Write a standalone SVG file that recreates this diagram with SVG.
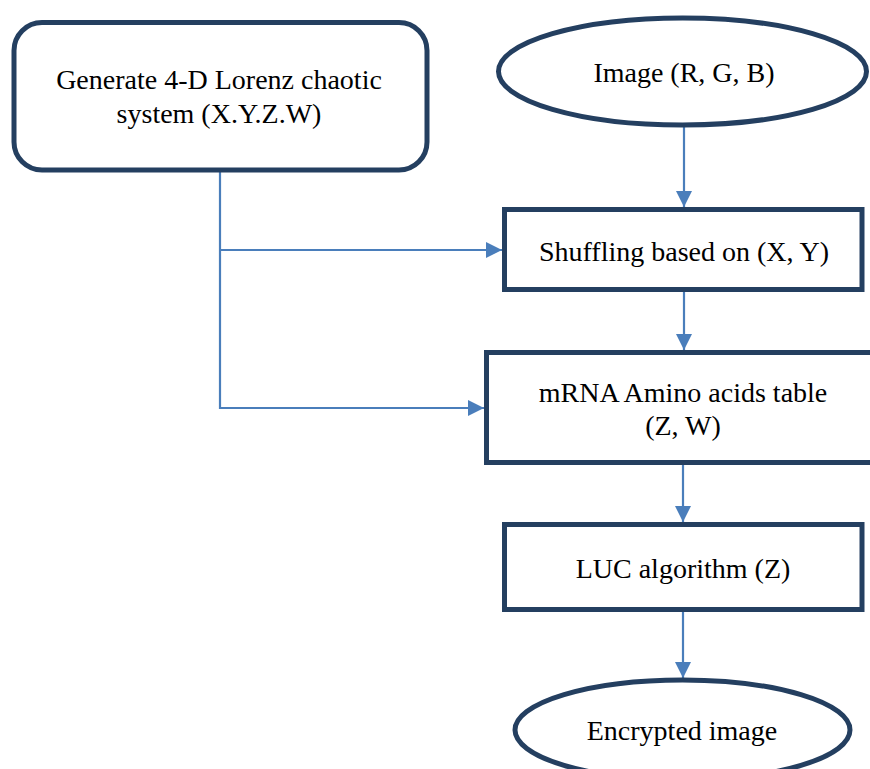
<svg xmlns="http://www.w3.org/2000/svg" width="870" height="769" viewBox="0 0 870 769">
<style>
.box{fill:#fff;stroke:#243f60;stroke-width:5}
.t{font-family:"Liberation Serif","Times New Roman",serif;font-size:28px;fill:#000;text-anchor:middle}
.c{fill:none;stroke:#4a7ebb;stroke-width:2.2}
</style>
<defs>
<marker id="ah" markerUnits="userSpaceOnUse" markerWidth="17" markerHeight="17" refX="16" refY="8" orient="auto">
<path d="M0,0 L16,8 L0,16 Z" fill="#4a7ebb"/>
</marker>
</defs>
<rect width="870" height="769" fill="#fff"/>
<g id="connectors">
<line class="c" x1="684" y1="127" x2="684" y2="207" marker-end="url(#ah)"/>
<line class="c" x1="684" y1="292" x2="684" y2="350" marker-end="url(#ah)"/>
<line class="c" x1="683" y1="465" x2="683" y2="522" marker-end="url(#ah)"/>
<line class="c" x1="683" y1="612" x2="683" y2="678" marker-end="url(#ah)"/>
<polyline class="c" points="220,172 220,408 484,408" marker-end="url(#ah)"/>
<line class="c" x1="220" y1="250" x2="502" y2="250" marker-end="url(#ah)"/>
</g>
<g id="lorenz">
<rect class="box" x="14" y="22.5" width="413" height="147.5" rx="28"/>
<text class="t" x="219" y="89">Generate 4-D Lorenz chaotic</text>
<text class="t" x="219" y="123">system (X.Y.Z.W)</text>
</g>
<g id="image">
<ellipse class="box" cx="682.5" cy="71.5" rx="184" ry="53.5"/>
<text class="t" x="684" y="82">Image (R, G, B)</text>
</g>
<g id="shuffling">
<rect class="box" x="504.5" y="209.5" width="357.5" height="80"/>
<text class="t" x="684" y="261">Shuffling based on (X, Y)</text>
</g>
<g id="mrna">
<rect class="box" x="486.5" y="352.5" width="400" height="110"/>
<text class="t" x="683" y="402">mRNA Amino acids table</text>
<text class="t" x="683" y="435">(Z, W)</text>
</g>
<g id="luc">
<rect class="box" x="504.5" y="524.5" width="357.5" height="85"/>
<text class="t" x="683" y="578">LUC algorithm (Z)</text>
</g>
<g id="encrypted">
<ellipse class="box" cx="682.5" cy="730" rx="167.5" ry="50"/>
<text class="t" x="682" y="740">Encrypted image</text>
</g>
</svg>
